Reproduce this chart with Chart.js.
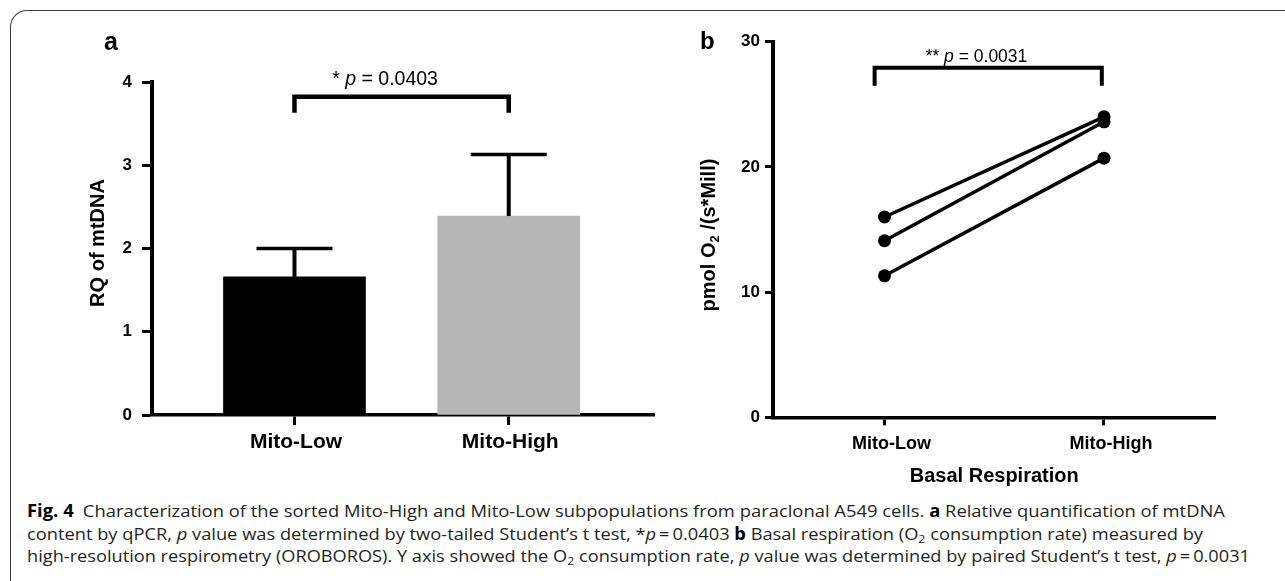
<!DOCTYPE html>
<html><head><meta charset="utf-8">
<script src="https://cdn.jsdelivr.net/npm/chart.js@4.4.1/dist/chart.umd.min.js"></script>
<style>
html,body{margin:0;padding:0;background:#fff;width:1285px;height:581px;overflow:hidden;position:relative}
#frame{position:absolute;left:10px;top:10px;width:1400px;height:700px;border-left:1.5px solid #3d3d3d;border-top:1.5px solid #3d3d3d;border-top-left-radius:17px;box-sizing:border-box}
canvas{position:absolute;top:0}
#ca{left:0px} #cb{left:660px}
.pl{position:absolute;font-family:'Liberation Sans',Arial,sans-serif;font-weight:bold;color:#000;white-space:nowrap}
#cap{position:absolute;left:27px;top:500px;font-family:'Open Sans',sans-serif;font-size:17px;line-height:22.5px;color:#231f20;white-space:nowrap}
#cap div{display:inline-block;transform-origin:0 50%}
#cap b{font-weight:700;color:#000}
#cap sub{font-size:11.5px;vertical-align:-3px;line-height:0}
</style></head><body>
<div id="frame"></div>
<canvas id="ca" width="660" height="495"></canvas>
<canvas id="cb" width="625" height="495"></canvas>
<div class="pl" style="left:104px;top:29px;font-size:25px;line-height:25px">a</div>
<div class="pl" style="left:700px;top:29px;font-size:24px;line-height:24px">b</div>
<div id="cap">
<div data-w="1198"><b>Fig. 4</b>&ensp;Characterization of the sorted Mito-High and Mito-Low subpopulations from paraclonal A549 cells. <b>a</b> Relative quantification of mtDNA</div><br>
<div data-w="1176">content by qPCR, <i>p</i> value was determined by two-tailed Student’s t test, *<i>p</i>&thinsp;=&thinsp;0.0403 <b>b</b> Basal respiration (O<sub>2</sub> consumption rate) measured by</div><br>
<div data-w="1223">high-resolution respirometry (OROBOROS). Y axis showed the O<sub>2</sub> consumption rate, <i>p</i> value was determined by paired Student’s t test, <i>p</i>&thinsp;=&thinsp;0.0031</div>
</div>
<script>
// ---- data ----
const categories = ['Mito-Low', 'Mito-High'];
const rqMean = [1.66, 2.39];
const rqSD = [0.34, 0.74];
const rqTicks = [0, 1, 2, 3, 4];
const respLow = [16.0, 14.1, 11.3];   // Mito-Low, replicates 1..3
const respHigh = [24.0, 23.6, 20.7];  // Mito-High, replicates 1..3
const respTicks = [0, 10, 20, 30];
const pA = '0.0403', starsA = '*';
const pB = '0.0031', starsB = '**';
const titleA = 'RQ of mtDNA';
const titleB = ['pmol O', '2', ' /(s*Mill)'];
const titleBx = 'Basal Respiration';

// fit caption lines to the reference line lengths
document.querySelectorAll('#cap div').forEach(d => {
  const w = d.getBoundingClientRect().width;
  d.style.transform = `scaleX(${(+d.dataset.w) / w})`;
});

const FONT = "'Liberation Sans', Arial, sans-serif";
Chart.defaults.font.family = FONT;
Chart.defaults.color = '#000';

const errorBarPlugin = {
  id: 'errbars',
  afterDatasetsDraw(chart, args, o) {
    const {ctx, scales: {x, y}} = chart;
    ctx.save();
    ctx.strokeStyle = '#000';
    rqMean.forEach((m, i) => {
      const px = x.getPixelForValue(i);
      const y0 = y.getPixelForValue(m), y1 = y.getPixelForValue(m + rqSD[i]);
      ctx.lineWidth = 4;
      ctx.beginPath(); ctx.moveTo(px, y0); ctx.lineTo(px, y1); ctx.stroke();
      ctx.lineWidth = 3.5;
      ctx.beginPath(); ctx.moveTo(px - o.cap / 2, y1); ctx.lineTo(px + o.cap / 2, y1); ctx.stroke();
    });
    ctx.restore();
  }
};

const bracketPlugin = {
  id: 'bracket',
  afterDatasetsDraw(chart, args, o) {
    const {ctx, scales: {x, y}} = chart;
    const xl = x.getPixelForValue(o.x0), xr = x.getPixelForValue(o.x1);
    const yt = y.getPixelForValue(o.yTop), yb = y.getPixelForValue(o.yLeg);
    ctx.save();
    ctx.strokeStyle = '#000'; ctx.lineWidth = o.lineWidth; ctx.lineJoin = 'miter'; ctx.lineCap = 'butt';
    ctx.beginPath(); ctx.moveTo(xl, yb); ctx.lineTo(xl, yt); ctx.lineTo(xr, yt); ctx.lineTo(xr, yb); ctx.stroke();
    const segs = [[o.stars + ' ', 'normal'], ['p', 'italic'], [' = ' + o.pval, 'normal']];
    let total = 0;
    segs.forEach(s => { ctx.font = `${s[1]} ${o.size}px ${FONT}`; s.push(ctx.measureText(s[0]).width); total += s[2]; });
    let cx = x.getPixelForValue(o.tx) - total / 2;
    const ty = y.getPixelForValue(o.ty);
    ctx.fillStyle = '#000'; ctx.textAlign = 'left'; ctx.textBaseline = 'alphabetic';
    segs.forEach(s => { ctx.font = `${s[1]} ${o.size}px ${FONT}`; ctx.fillText(s[0], cx, ty); cx += s[2]; });
    ctx.restore();
  }
};

const vTitlePlugin = {
  id: 'vtitle',
  afterDraw(chart, args, o) {
    const {ctx} = chart;
    ctx.save();
    ctx.translate(o.bx, o.cy);
    ctx.rotate(-Math.PI / 2);
    ctx.fillStyle = '#000'; ctx.textAlign = 'left'; ctx.textBaseline = 'alphabetic';
    let total = 0;
    o.segs.forEach(s => { ctx.font = `bold ${s.size}px ${FONT}`; s.w = ctx.measureText(s.t).width; total += s.w; });
    let lx = -total / 2;
    o.segs.forEach(s => { ctx.font = `bold ${s.size}px ${FONT}`; ctx.fillText(s.t, lx, s.dy || 0); lx += s.w; });
    ctx.restore();
  }
};

function catAxis(min, max, fontSize, tickLen, pad, height, labelOffset, extra) {
  return Object.assign({
    type: 'linear', min, max, offset: false, z: 1,
    afterBuildTicks: s => { s.ticks = categories.map((c, i) => ({value: i})); },
    ticks: {callback: v => categories[v], font: {size: fontSize, weight: 'bold'}, color: '#000', padding: pad, labelOffset, maxRotation: 0, autoSkip: false},
    grid: {display: true, offset: false, drawOnChartArea: false, drawTicks: true, tickLength: tickLen, tickWidth: 3, tickColor: '#000'},
    border: {display: true, color: '#000', width: 3.5},
    afterFit: s => { s.height = height; }
  }, extra || {});
}
function valAxis(min, max, tickArr, fontSize, tickLen, pad, width) {
  return {
    min, max, z: 1,
    afterBuildTicks: s => { s.ticks = tickArr.map(v => ({value: v})); },
    ticks: {font: {size: fontSize, weight: 'bold'}, color: '#000', padding: pad},
    grid: {display: true, drawOnChartArea: false, drawTicks: true, tickLength: tickLen, tickWidth: 3, tickColor: '#000'},
    border: {display: true, color: '#000', width: 4},
    afterFit: s => { s.width = width; }
  };
}

// ---- panel a ----
new Chart(document.getElementById('ca'), {
  type: 'bar',
  data: {
    datasets: [{
      data: categories.map((c, i) => ({x: i, y: rqMean[i]})),
      backgroundColor: ['#000000', '#b5b6b5'],
      borderWidth: 0,
      barThickness: 142
    }]
  },
  options: {
    animation: false, responsive: false, devicePixelRatio: 1,
    layout: {padding: {top: 82, right: 6, left: 0, bottom: 0}},
    plugins: {
      legend: {display: false}, tooltip: {enabled: false},
      errbars: {cap: 76},
      bracket: {x0: 0, x1: 1, yTop: 3.823, yLeg: 3.63, lineWidth: 4.5, stars: starsA, pval: pA, size: 19.5, tx: 0.423, ty: 3.964},
      vtitle: {bx: 103.5, cy: 243, segs: [{t: titleA, size: 20}]}
    },
    scales: {
      x: catAxis(-0.665, 1.678, 21, 10, 5, 80, 1.5),
      y: valAxis(0, 4, rqTicks, 17, 10, 10, 152)
    }
  },
  plugins: [errorBarPlugin, bracketPlugin, vTitlePlugin]
});

// ---- panel b ----
const lineSets = respLow.map((lo, i) => ({
  data: [{x: 0, y: lo}, {x: 1, y: respHigh[i]}],
  borderColor: '#000', borderWidth: 3.5,
  pointRadius: 6.5, pointBackgroundColor: '#000', pointBorderColor: '#000', pointBorderWidth: 0,
  fill: false, tension: 0
}));
new Chart(document.getElementById('cb'), {
  type: 'line',
  data: {datasets: lineSets},
  options: {
    animation: false, responsive: false, devicePixelRatio: 1,
    layout: {padding: {top: 41.7, right: 69.5, left: 0, bottom: 0}},
    plugins: {
      legend: {display: false}, tooltip: {enabled: false},
      bracket: {x0: -0.045, x1: 0.99, yTop: 27.92, yLeg: 26.49, lineWidth: 4, stars: starsB, pval: pB, size: 17.5, tx: 0.419, ty: 28.4},
      vtitle: {bx: 54.5, cy: 235, segs: [{t: titleB[0], size: 20}, {t: titleB[1], size: 13, dy: 4}, {t: titleB[2], size: 20}]}
    },
    scales: {
      x: catAxis(-0.508, 1.508, 18, 8, 7.7, 77.7, 7, {
        title: {display: true, text: titleBx, font: {size: 20, weight: 'bold'}, color: '#000', padding: {top: 0, bottom: 7}}
      }),
      y: valAxis(0, 30, respTicks, 17, 8, 5, 113)
    }
  },
  plugins: [bracketPlugin, vTitlePlugin]
});
</script>
</body></html>
